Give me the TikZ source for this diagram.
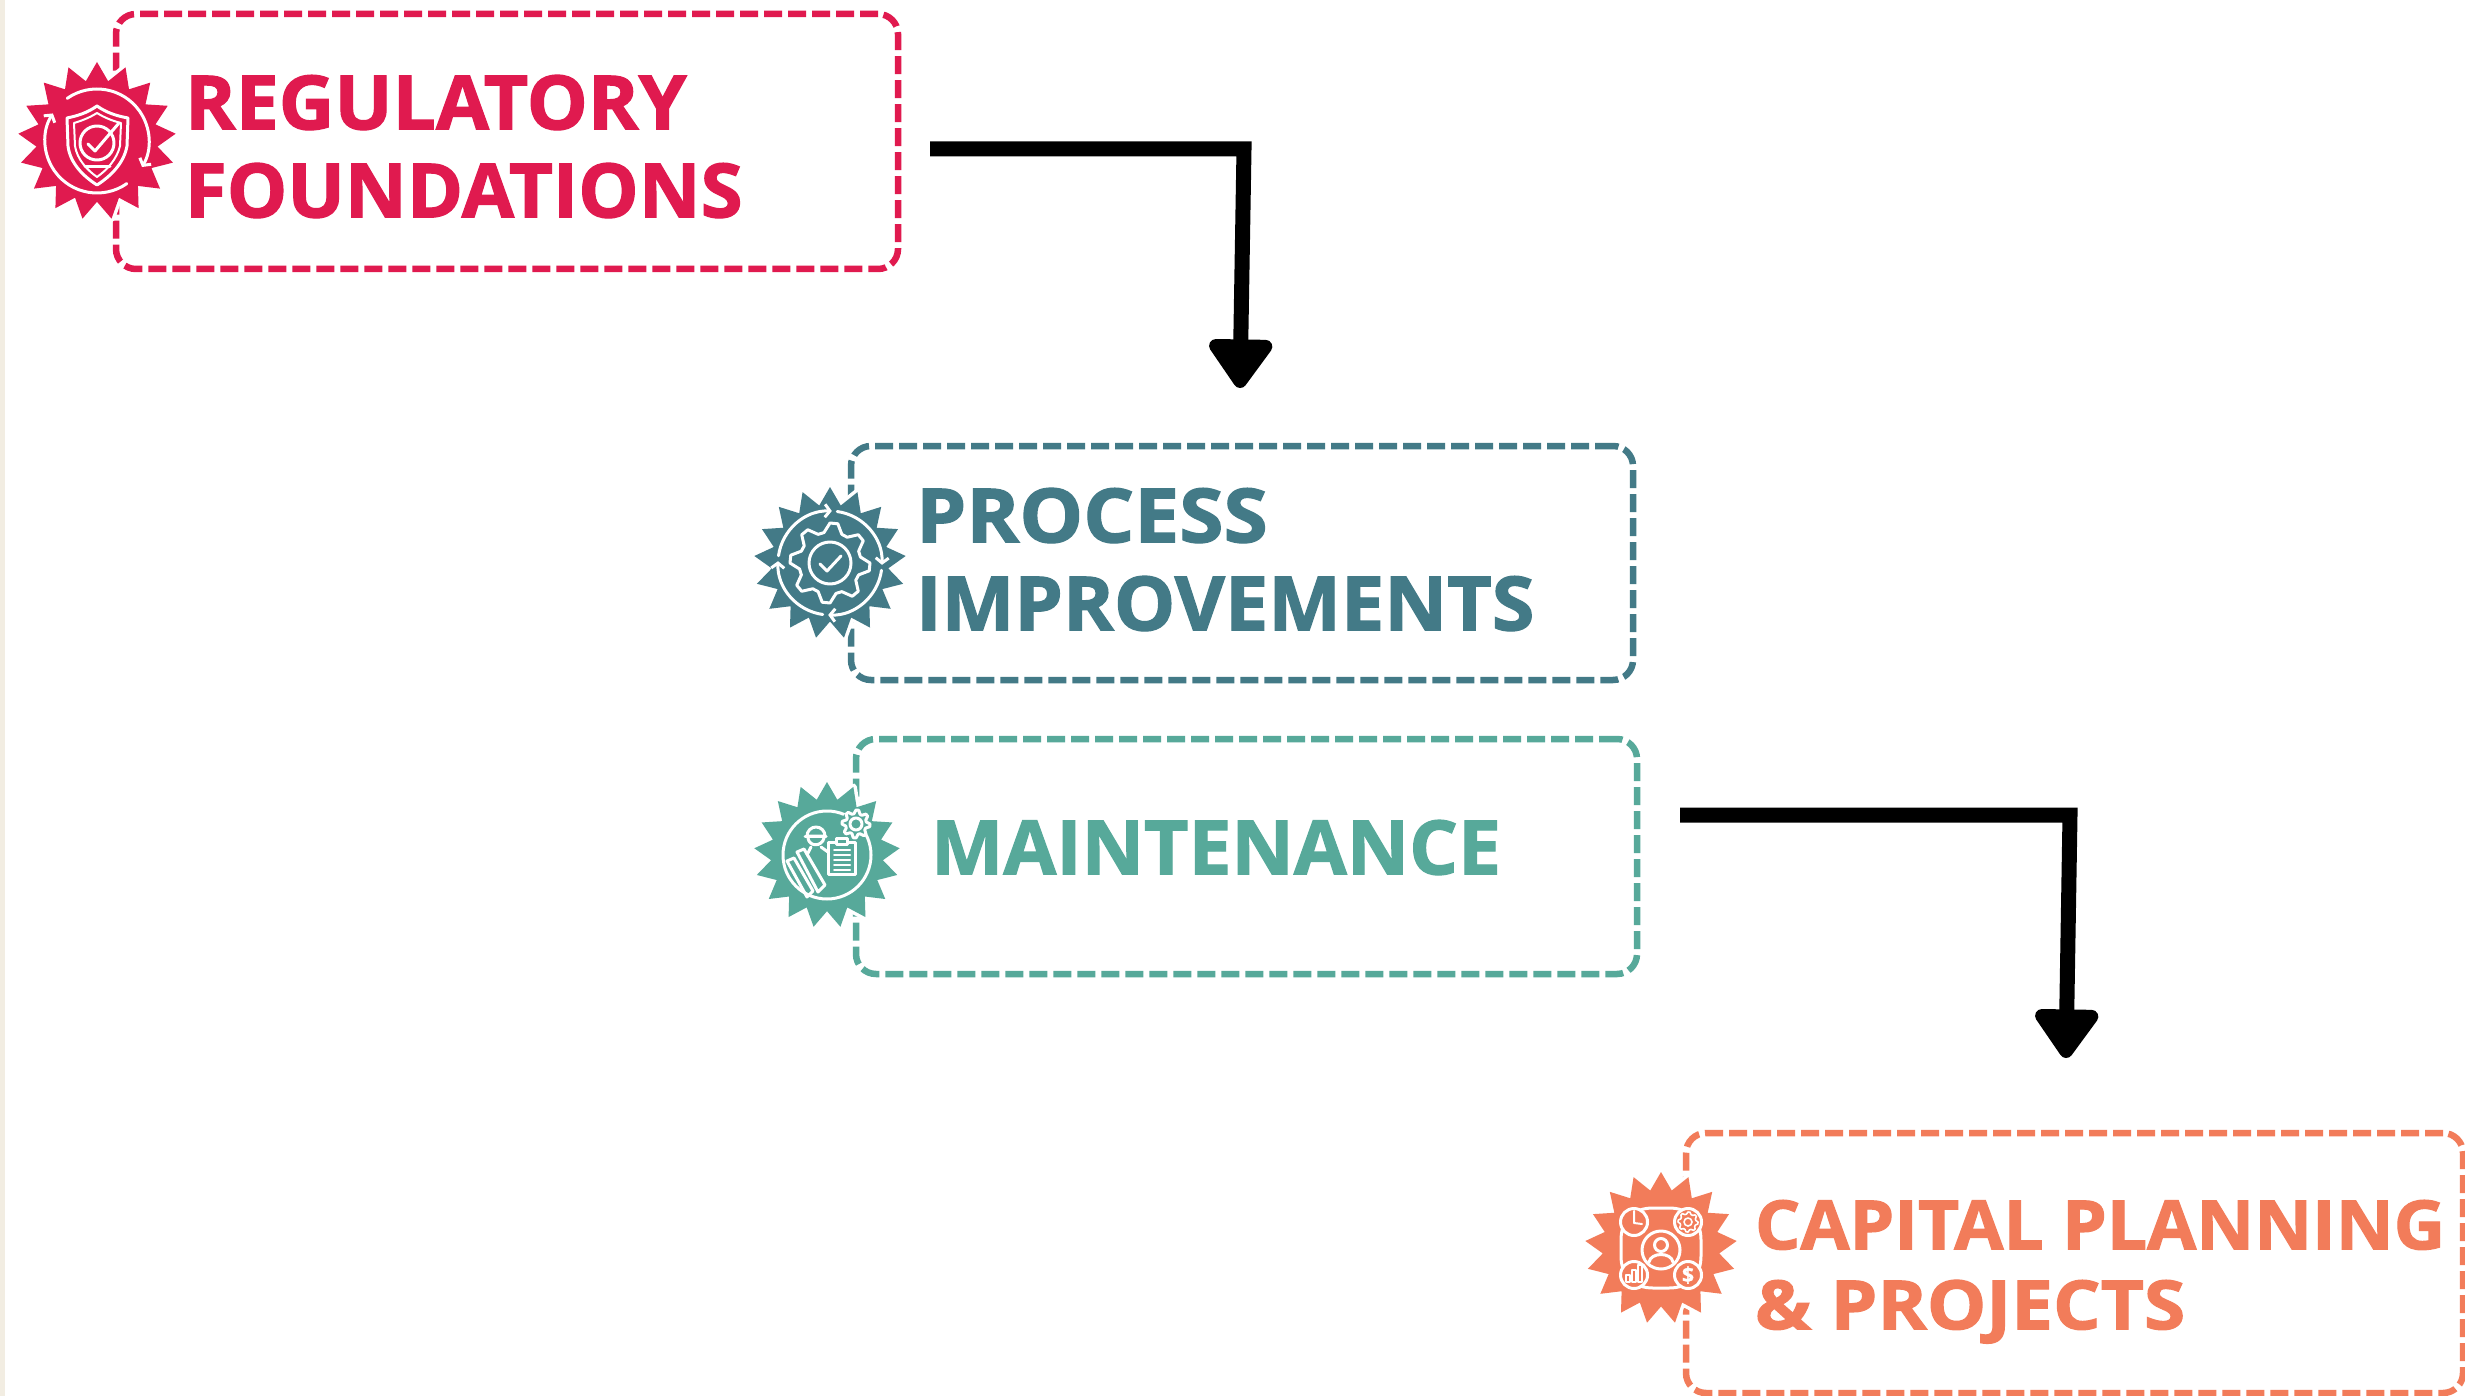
\documentclass[tikz,border=0pt]{standalone}
\usepackage{graphicx}
\usepackage{fontspec}
\setmainfont{Open Sans}[BoldFeatures={FakeBold=1.6}]
\usetikzlibrary{shapes.geometric,arrows.meta}
\definecolor{crim}{HTML}{E01A4F}
\definecolor{tealc}{HTML}{437A87}
\definecolor{greenc}{HTML}{57A99A}
\definecolor{orangec}{HTML}{F27C5A}
\definecolor{strip}{HTML}{F2EDE2}
\newcommand{\gearloop}[5]{% cx cy Ro Ri teeth
  plot[samples at={0,1,...,\numexpr4*#5-1\relax}] ({#1+(ifthenelse(mod(\x,4)<2,#3,#4))*cos(\x*90/#5)},{#2+(ifthenelse(mod(\x,4)<2,#3,#4))*sin(\x*90/#5)}) -- cycle}
\newcommand{\hs}[2]{\scalebox{#1}[1]{#2}}
\tikzset{
  dashbox/.style={draw=#1,rectangle,rounded corners=20pt,line width=6.5pt,dash pattern=on 18pt off 6pt,inner sep=0pt,outer sep=0pt},
  badge/.style={star,star points=17,star point ratio=1.3,fill=#1,inner sep=0pt,outer sep=0pt,preaction={draw=white,line width=7pt,line join=round}},
  boxtext/.style={text=#1,font=\bfseries\fontsize{75}{88}\selectfont,align=left,anchor=north west,inner sep=0pt,outer sep=0pt},
  connector/.style={draw=black,line width=15pt,line join=miter,-{Triangle[length=54pt,width=72pt,round,line width=16pt]}},
  icon/.style={draw=white,line width=3pt,line cap=round,line join=round},
  iconhead/.style={icon,-{Straight Barb[length=5pt,width=13pt,line width=3pt]}}
}
\begin{document}
\begin{tikzpicture}[x=1pt,y=-1pt]
\useasboundingbox (0,0) rectangle (2465,1396);
\fill[white] (0,0) rectangle (2465,1396);
\fill[strip] (0,0) rectangle (5,1396);

% boxes
\node[dashbox=crim,minimum width=782pt,minimum height=255pt] (box1) at (507,141.5) {};
\node[dashbox=tealc,minimum width=782pt,minimum height=234pt] (box2) at (1242,563) {};
\node[dashbox=greenc,minimum width=781pt,minimum height=235pt] (box3) at (1246.5,856.5) {};
\node[dashbox=orangec,minimum width=777pt,minimum height=260pt] (box4) at (2074.5,1263) {};

% texts
\node[boxtext=crim] (t1) at (185,75) {\hs{1.025}{REGULATORY}\\\hs{1.015}{FOUNDATIONS}};
\node[boxtext=tealc] (t2) at (916,488) {\hs{1.07}{PROCESS}\\\hs{1.03}{IMPROVEMENTS}};
\node[boxtext=greenc] (t3) at (931,820) {\hs{1.023}{MAINTENANCE}};
\node[boxtext=orangec,font=\bfseries\fontsize{68}{80}\selectfont] (t4) at (1755,1200) {\hs{1.048}{CAPITAL PLANNING}\\\hs{1.10}{\& PROJECTS}};

% badges
\node[badge=crim,minimum size=158pt] (b1) at (97,141) {};
\node[badge=tealc,minimum size=152pt] (b2) at (830,563) {};
\node[badge=greenc,minimum size=146pt] (b3) at (827,855) {};
\node[badge=orangec,minimum size=152pt] (b4) at (1661,1248) {};

% icon 1: shield
\begin{scope}[shift={(b1.center)}]
\draw[iconhead] (235:52) arc[start angle=235,end angle=390,radius=52];
\draw[iconhead] (55:52) arc[start angle=55,end angle=212,radius=52];
\draw[icon] (0,-35) .. controls (-10,-28) and (-20,-25) .. (-30,-23) -- (-29,5) .. controls (-27,22) and (-14,35) .. (0,44) .. controls (14,35) and (27,22) .. (30,5) -- (31,-23) .. controls (20,-25) and (10,-28) .. (0,-35) -- cycle;
\draw[icon,line width=2pt] (0,-28) .. controls (-8,-23) and (-16,-20) .. (-23,-18) -- (-22,5) .. controls (-20,18) and (-10,29) .. (0,36) .. controls (10,29) and (20,18) .. (23,5) -- (24,-18) .. controls (16,-20) and (8,-23) .. (0,-28) -- cycle;
\draw[icon] (0,2) circle[radius=17];
\draw[icon] (-9,3) -- (-2,10) -- (22,-18);
\draw[icon] (-12,26) -- (13,26);
\end{scope}

% icon 2: gear
\begin{scope}[shift={(b2.center)}]
\draw[iconhead] (188:52) arc[start angle=188,end angle=272,radius=52];
\draw[iconhead] (278:52) arc[start angle=278,end angle=362,radius=52];
\draw[iconhead] (8:52) arc[start angle=8,end angle=92,radius=52];
\draw[iconhead] (98:52) arc[start angle=98,end angle=182,radius=52];
\draw[icon] \gearloop{0}{0}{40}{31}{8};
\draw[icon] (0,0) circle[radius=21];
\draw[icon] (-10,1) -- (-3,8) -- (11,-7);
\end{scope}

% icon 3: worker, clipboard, tools
\begin{scope}[shift={(b3.center)}]
\draw[icon] (0,0) circle[radius=44];
\fill[greenc] (29,-31) circle[radius=15];
\draw[icon] \gearloop{29}{-31}{14}{10.5}{8};
\draw[icon] (29,-31) circle[radius=6];
\draw[icon] (-20,-19) arc[start angle=180,end angle=360,radius=9] -- cycle;
\draw[icon] (-22,-19) -- (-1,-19);
\draw[icon] (-19,-17) .. controls (-18,-8) and (-5,-8) .. (-3,-17);
\draw[icon] (-16,-8) -- (-20,0) (-6,-8) -- (1,-3);
\filldraw[icon,fill=greenc] (1,-13) rectangle (28,19);
\filldraw[icon,fill=greenc] (9,-17) rectangle (20,-11);
\foreach \yy in {-5,0,5,10,15} \draw[icon,line width=2pt] (7,\yy) -- (23,\yy);
\draw[icon] (-30,-3) -- (-23,-6) -- (-2,30) -- (-9,37) -- cycle;
\draw[icon] (-40,6) -- (-33,3) -- (-14,36) -- (-20,42) -- cycle;
\end{scope}

% icon 4: planning
\begin{scope}[shift={(b4.center)}]
\draw[icon] (-40,-8) .. controls (-40,-28) and (-28,-40) .. (-8,-40) -- (8,-40) .. controls (28,-40) and (40,-28) .. (40,-8) -- (40,8) .. controls (40,28) and (28,40) .. (8,40) -- (-8,40) .. controls (-28,40) and (-40,28) .. (-40,8) -- cycle;
\foreach \cx/\cy in {-27/-26,27/-26,-27/27,27/27}
  \filldraw[icon,fill=orangec] (\cx,\cy) circle[radius=13.5];
\filldraw[icon,fill=orangec] (0,2) circle[radius=19];
\draw[icon] (0,-3) circle[radius=6.5];
\draw[icon] (-12,14) .. controls (-10,4) and (10,4) .. (12,14);
% clock
\draw[icon,line width=2pt] (-27,-37) -- (-27,-25) -- (-19,-24);
% gear
\draw[icon,line width=1.6pt] \gearloop{27}{-26}{10}{8}{8};
\draw[icon,line width=1.6pt] (27,-26) circle[radius=4];
% bars
\draw[icon,line width=1.8pt] (-35,27) rectangle (-31,34) (-29,22) rectangle (-25,34) (-23,17) rectangle (-19,34);
% dollar
\node[text=white,font=\bfseries\fontsize{21}{21}\selectfont,inner sep=0pt] (dollar) at (27,27) {\$};
\end{scope}

% connectors
\coordinate (a1s) at (930,149);
\coordinate (a1c) at (1244,149);
\coordinate (a1e) at (1240,388);
\draw[connector] (a1s) -- (a1c) -- (a1e);
\coordinate (a2s) at (1680,815);
\coordinate (a2c) at (2070,815);
\coordinate (a2e) at (2066,1058);
\draw[connector] (a2s) -- (a2c) -- (a2e);
\end{tikzpicture}
\end{document}
